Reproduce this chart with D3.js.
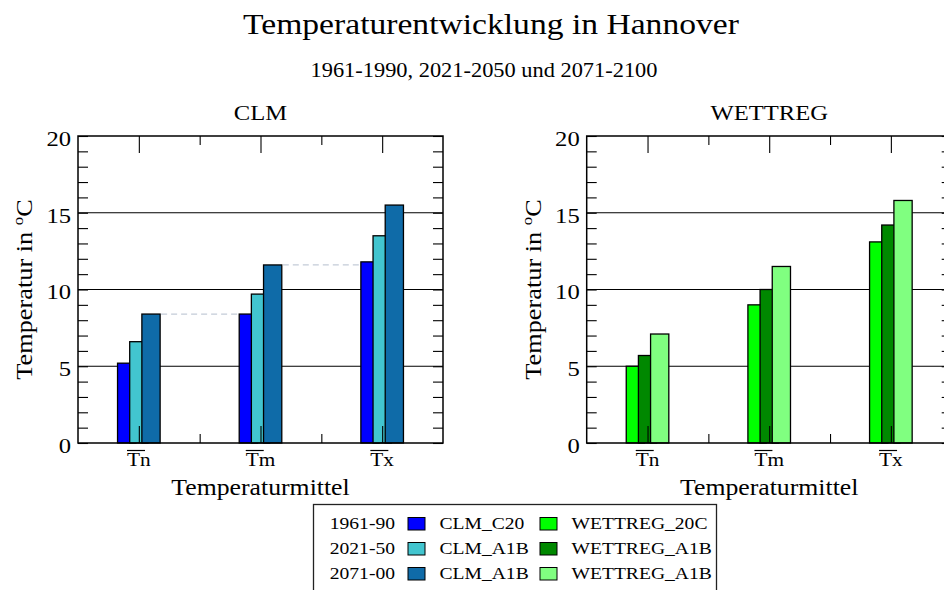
<!DOCTYPE html>
<html>
<head>
<meta charset="utf-8">
<script src="https://cdn.jsdelivr.net/npm/d3@7"></script>
<style>
  body { margin: 0; background: #fff; }
  svg { display: block; }
</style>
</head>
<body>
<script>
// Temperature means (°C) for Hannover per model run and period
const categories = ["Tn", "Tm", "Tx"];
const clmC20 = [5.2, 8.4, 11.8];
const clmA1B2050 = [6.6, 9.7, 13.5];
const clmA1B2100 = [8.4, 11.6, 15.5];
const wettreg20C = [5.0, 9.0, 13.1];
const wettregA1B2050 = [5.7, 10.0, 14.2];
const wettregA1B2100 = [7.1, 11.5, 15.8];

const yTicks = [0, 5, 10, 15, 20];
const periods = ["1961-90", "2021-50", "2071-00"];
const clmNames = ["CLM_C20", "CLM_A1B", "CLM_A1B"];
const wettregNames = ["WETTREG_20C", "WETTREG_A1B", "WETTREG_A1B"];
const clmColors = ["#0000ff", "#42c5cf", "#0f6ba8"];
const wettregColors = ["#00ff00", "#008800", "#80ff80"];

const W = 944, H = 590;
const FONT = "'Liberation Serif', 'Times New Roman', serif";
const SX = 1.12; // horizontal text stretch

const svg = d3.select("body").append("svg")
  .attr("width", W).attr("height", H)
  .attr("viewBox", `0 0 ${W} ${H}`);

// helper: stretched serif text
function label(parent, x, y, str, size, anchor = "middle", rotate = 0) {
  return parent.append("text")
    .attr("transform", `translate(${x},${y})` + (rotate ? ` rotate(${rotate})` : "") + ` scale(${SX},1)`)
    .attr("text-anchor", anchor)
    .attr("font-family", FONT)
    .attr("font-size", size)
    .attr("fill", "#000")
    .text(str);
}

label(svg, 491, 34, "Temperaturentwicklung in Hannover", 30);
label(svg, 484, 77, "1961-1990, 2021-2050 und 2071-2100", 20);

const plotTop = 136, plotBottom = 443;

function panel(cfg) {
  const { x0, x1, title, series, colors, connectors } = cfg;
  const g = svg.append("g");
  const xs = d3.scaleLinear().domain([0.5, 3.5]).range([x0, x1]);
  const ys = d3.scaleLinear().domain([0, 20]).range([plotBottom, plotTop]);

  // horizontal grid lines
  g.append("g").selectAll("line")
    .data(yTicks.filter(v => v > 0 && v < 20))
    .join("line")
    .attr("x1", x0).attr("x2", x1)
    .attr("y1", d => ys(d)).attr("y2", d => ys(d))
    .attr("stroke", "#000").attr("stroke-width", 1.1);

  // bars: three overlapping bars per category
  const barW = 0.15, step = 0.1;
  series.forEach((vals, s) => {
    g.append("g").selectAll("rect")
      .data(vals)
      .join("rect")
      .attr("x", (d, i) => xs(i + 1 + (s - 1) * step - barW / 2))
      .attr("width", xs(barW) - xs(0))
      .attr("y", d => ys(d))
      .attr("height", d => ys(0) - ys(d))
      .attr("fill", colors[s])
      .attr("stroke", "#000")
      .attr("stroke-width", 1.3);
  });

  // dashed guides from the last bar of a group to the next group
  if (connectors) {
    const last = series[2];
    g.append("g").selectAll("line")
      .data(last.slice(0, -1))
      .join("line")
      .attr("x1", (d, i) => xs(i + 1 + step + barW / 2) + 1)
      .attr("x2", (d, i) => xs(i + 2 - step - barW / 2) - 2)
      .attr("y1", d => ys(d)).attr("y2", d => ys(d))
      .attr("stroke", "#c3cbd8")
      .attr("stroke-width", 1.2)
      .attr("stroke-dasharray", "6,4");
  }

  // minor y ticks (inward) on both sides
  const yMinor = d3.range(0, 21);
  g.append("g").attr("transform", `translate(${x0},0)`)
    .call(d3.axisLeft(ys).tickValues(yMinor).tickSize(-10).tickFormat(""))
    .call(a => a.select(".domain").remove())
    .selectAll("line").attr("stroke", "#000").attr("stroke-width", 1.1);
  g.append("g").attr("transform", `translate(${x1},0)`)
    .call(d3.axisRight(ys).tickValues(yMinor).tickSize(-10).tickFormat(""))
    .call(a => a.select(".domain").remove())
    .selectAll("line").attr("stroke", "#000").attr("stroke-width", 1.1);

  // x ticks: major at categories, minor between, on bottom and top
  [[d3.axisBottom, plotBottom], [d3.axisTop, plotTop]].forEach(([ax, y]) => {
    g.append("g").attr("transform", `translate(0,${y})`)
      .call(ax(xs).tickValues([1, 2, 3]).tickSize(-17).tickFormat(""))
      .call(a => a.select(".domain").remove())
      .selectAll("line").attr("stroke", "#000").attr("stroke-width", 1.1);
    g.append("g").attr("transform", `translate(0,${y})`)
      .call(ax(xs).tickValues([1.5, 2.5]).tickSize(-9).tickFormat(""))
      .call(a => a.select(".domain").remove())
      .selectAll("line").attr("stroke", "#000").attr("stroke-width", 1.1);
  });

  // frame
  g.append("rect")
    .attr("x", x0).attr("y", plotTop)
    .attr("width", x1 - x0).attr("height", plotBottom - plotTop)
    .attr("fill", "none").attr("stroke", "#000").attr("stroke-width", 1.5);

  // y tick labels
  const yl = g.append("g").attr("transform", `translate(${x0},0)`)
    .call(d3.axisLeft(ys).tickValues(yTicks).tickSize(0).tickPadding(7).tickFormat(d3.format("d")));
  yl.select(".domain").remove();
  yl.attr("font-family", FONT).attr("font-size", 22);
  yl.selectAll("text")
    .attr("fill", "#000")
    .attr("x", -7 / SX)
    .attr("dy", "0.43em")
    .attr("transform", `scale(${SX},1)`);

  // category labels with overline on the T
  categories.forEach((c, i) => {
    const cx = xs(i + 1);
    const t = label(g, cx, 466, c, 19);
    const w = t.node().getComputedTextLength() * SX;
    const left = cx - w / 2;
    g.append("line")
      .attr("x1", left).attr("x2", left + 18)
      .attr("y1", 450.5).attr("y2", 450.5)
      .attr("stroke", "#000").attr("stroke-width", 1.2);
  });

  // titles
  const mid = (x0 + x1) / 2;
  label(g, mid, 120, title, 22);
  label(g, mid, 495, "Temperaturmittel", 23);

  const yt = g.append("text")
    .attr("transform", `translate(${x0 - 46},${(plotTop + plotBottom) / 2}) rotate(-90) scale(${SX},1)`)
    .attr("text-anchor", "middle")
    .attr("font-family", FONT)
    .attr("font-size", 23.5)
    .attr("fill", "#000");
  yt.append("tspan").text("Temperatur in ");
  yt.append("tspan").attr("font-size", 15).attr("dy", -9).text("o");
  yt.append("tspan").attr("dy", 9).text("C");
}

panel({
  x0: 78, x1: 443, title: "CLM",
  series: [clmC20, clmA1B2050, clmA1B2100],
  colors: clmColors, connectors: true
});
panel({
  x0: 586.7, x1: 951.7, title: "WETTREG",
  series: [wettreg20C, wettregA1B2050, wettregA1B2100],
  colors: wettregColors, connectors: false
});

// legend
const lg = svg.append("g");
lg.append("rect")
  .attr("x", 313.5).attr("y", 504.5)
  .attr("width", 403).attr("height", 120)
  .attr("fill", "#fff").attr("stroke", "#222").attr("stroke-width", 1.3);

periods.forEach((p, r) => {
  const base = 529 + r * 25;
  label(lg, 395, base, p, 17.5, "end");
  lg.append("rect")
    .attr("x", 408).attr("y", base - 11.5)
    .attr("width", 17).attr("height", 12.5)
    .attr("fill", clmColors[r]).attr("stroke", "#000").attr("stroke-width", 1);
  label(lg, 439.5, base, clmNames[r], 17.5, "start");
  lg.append("rect")
    .attr("x", 540).attr("y", base - 11.5)
    .attr("width", 17).attr("height", 12.5)
    .attr("fill", wettregColors[r]).attr("stroke", "#000").attr("stroke-width", 1);
  label(lg, 571.5, base, wettregNames[r], 17.5, "start");
});
</script>
</body>
</html>
